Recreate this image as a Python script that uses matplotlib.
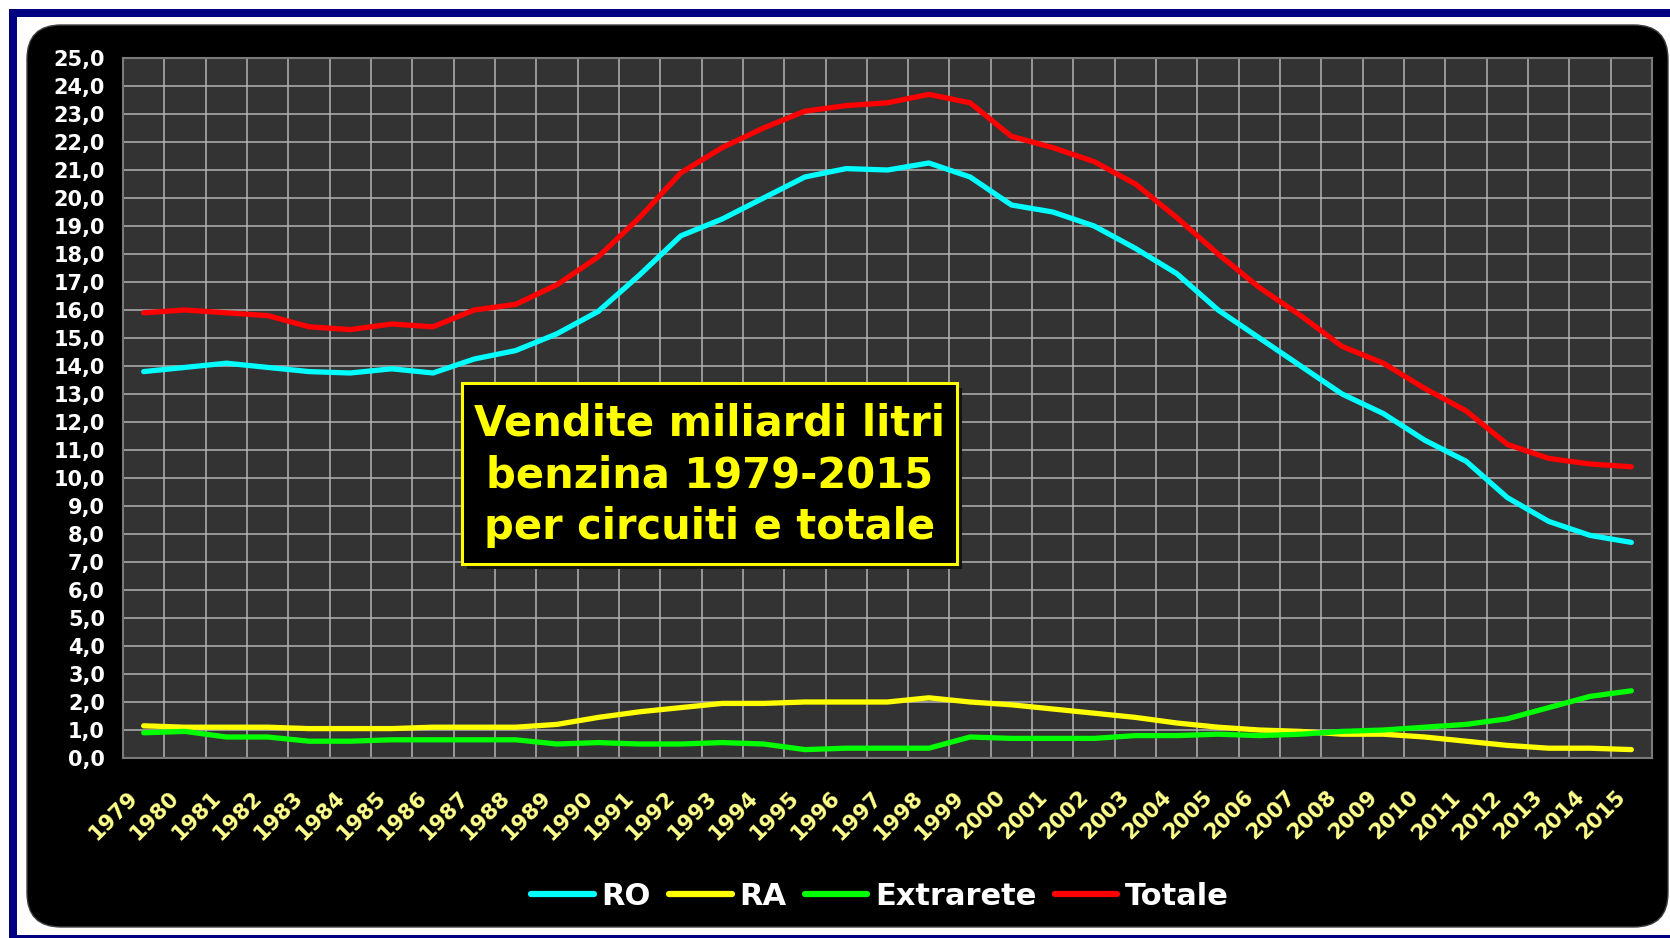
import matplotlib
matplotlib.use("Agg")
import matplotlib.pyplot as plt
import matplotlib.patches as mpatches
import matplotlib.transforms as mtransforms
import numpy as np

# dati (miliardi di litri)
anni = list(range(1979, 2016))
ro = [13.8, 13.95, 14.1, 13.95, 13.8, 13.75, 13.9, 13.75, 14.25, 14.55,
      15.15, 15.95, 17.25, 18.65, 19.25, 20.0, 20.75, 21.05, 21.0, 21.25,
      20.75, 19.75, 19.5, 19.0, 18.2, 17.3, 16.0, 15.0, 14.0, 13.0,
      12.3, 11.35, 10.6, 9.3, 8.45, 7.95, 7.7]
ra = [1.15, 1.1, 1.1, 1.1, 1.05, 1.05, 1.05, 1.1, 1.1, 1.1,
      1.2, 1.45, 1.65, 1.8, 1.95, 1.95, 2.0, 2.0, 2.0, 2.15,
      2.0, 1.9, 1.75, 1.6, 1.45, 1.25, 1.1, 1.0, 0.95, 0.85,
      0.85, 0.75, 0.6, 0.45, 0.35, 0.35, 0.3]
extrarete = [0.9, 0.95, 0.75, 0.75, 0.6, 0.6, 0.65, 0.65, 0.65, 0.65,
             0.5, 0.55, 0.5, 0.5, 0.55, 0.5, 0.3, 0.35, 0.35, 0.35,
             0.75, 0.7, 0.7, 0.7, 0.8, 0.8, 0.85, 0.8, 0.85, 0.95,
             1.0, 1.1, 1.2, 1.4, 1.8, 2.2, 2.4]
totale = [15.9, 16.0, 15.9, 15.8, 15.4, 15.3, 15.5, 15.4, 16.0, 16.2,
          16.9, 17.9, 19.3, 20.9, 21.8, 22.5, 23.1, 23.3, 23.4, 23.7,
          23.4, 22.2, 21.8, 21.3, 20.5, 19.3, 18.0, 16.8, 15.8, 14.7,
          14.1, 13.2, 12.4, 11.2, 10.7, 10.5, 10.4]

serie = ["RO", "RA", "Extrarete", "Totale"]
colori = ["#00FFFF", "#FFFF00", "#00FF00", "#FF0000"]
titolo = "Vendite miliardi litri\nbenzina 1979-2015\nper circuiti e totale"

W, H = 1670, 938
fig = plt.figure(figsize=(W / 100, H / 100), dpi=100, facecolor="white")

# cornice blu e fondo nero arrotondato (coordinate in pixel)
blu = mpatches.Rectangle((13, -1), W + 20, H - 13 + 1, fill=False,
                         edgecolor="#000080", linewidth=8 * 0.72,
                         transform=mtransforms.IdentityTransform(), zorder=-3)
fig.patches.append(blu)
nero = mpatches.FancyBboxPatch((27, 11), 1641, 902,
                               boxstyle="round,pad=0,rounding_size=34",
                               facecolor="black", edgecolor="#404040", linewidth=1,
                               transform=mtransforms.IdentityTransform(), zorder=-2)
fig.patches.append(nero)

ax = fig.add_axes([123 / W, 1 - 758 / H, (1652 - 123) / W, (758 - 58) / H])
ax.set_facecolor("#333333")

x = np.arange(len(anni))
dati = [ro, ra, extrarete, totale]
for nome, vals, c in zip(serie, dati, colori):
    ax.plot(x, vals, color=c, lw=3.8, solid_capstyle="round",
            solid_joinstyle="round", label=nome, zorder=3)

ax.set_xlim(-0.5, len(anni) - 0.5)
ax.set_ylim(0, 25)
ax.set_yticks(np.arange(0, 26, 1))
ax.set_yticklabels([f"{v:.1f}".replace(".", ",") for v in np.arange(0, 26, 1)])
ax.set_xticks(x)
ax.set_xticklabels([str(a) for a in anni])
ax.set_xticks(np.arange(0.5, len(anni) - 1, 1), minor=True)

ax.grid(True, axis="y", which="major", color="#B4B4B4", lw=1.1, zorder=1)
ax.grid(True, axis="x", which="minor", color="#B4B4B4", lw=1.1, zorder=1)
ax.grid(False, axis="x", which="major")
ax.tick_params(axis="both", which="both", length=0)
ax.tick_params(axis="y", pad=13, labelsize=15, labelcolor="white")
ax.tick_params(axis="x", pad=0, labelsize=15.5, labelcolor="#FFFF8C")
for t in ax.get_yticklabels():
    t.set_fontweight("bold")
off = mtransforms.ScaledTranslation(-9 / 100, -36 / 100, fig.dpi_scale_trans)
for t in ax.get_xticklabels():
    t.set_fontweight("bold")
    t.set_rotation(45)
    t.set_rotation_mode("anchor")
    t.set_ha("right")
    t.set_va("center")
    t.set_transform(t.get_transform() + off)
for s in ax.spines.values():
    s.set_color("#7A7A7A")
    s.set_linewidth(1.5)

# riquadro titolo con ombra
bx, by, bw, bh = 462, 938 - 564, 495, 181
ombra = mpatches.Rectangle((bx + 5, by - 5), bw, bh, facecolor="#141414",
                           edgecolor="none",
                           transform=mtransforms.IdentityTransform(), zorder=5)
box = mpatches.Rectangle((bx, by), bw, bh, facecolor="black", edgecolor="#FFFF00",
                         linewidth=2.2, transform=mtransforms.IdentityTransform(),
                         zorder=6)
fig.patches.extend([ombra, box])
fig.text((bx + bw / 2) / W, (by + bh / 2 - 2) / H, titolo, color="#FFFF00",
         fontsize=30, fontweight="bold", ha="center", va="center",
         multialignment="center", linespacing=1.3, zorder=7)

leg = fig.legend(loc="center", bbox_to_anchor=(880 / W, 1 - 896 / H), ncol=4,
                 frameon=False, fontsize=22, handlelength=2.05,
                 handletextpad=0.25, columnspacing=0.6)
for t in leg.get_texts():
    t.set_color("white")
    t.set_fontweight("bold")
for h in leg.get_lines():
    h.set_linewidth(4.5)

fig.savefig("out.png", dpi=100, facecolor="white")
